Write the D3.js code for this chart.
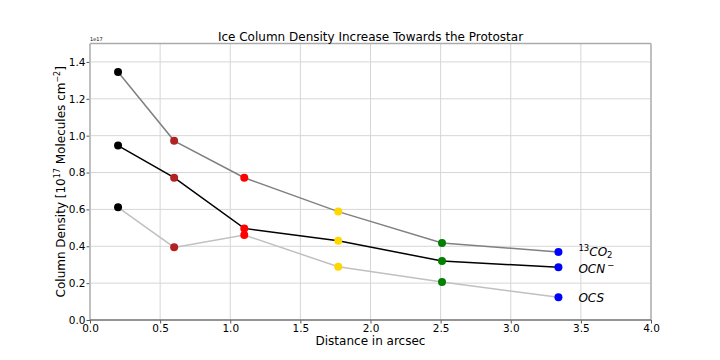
<!DOCTYPE html>
<html>
<head>
<meta charset="utf-8">
<script src="https://cdn.jsdelivr.net/npm/d3@7"></script>
<style>
  body { margin: 0; background: #fff; }
  svg { font-family: "DejaVu Sans", sans-serif; }
</style>
</head>
<body>
<script>
const w = 720,
	h = 360;

// distances in arcsec for each measured position
const distances = [0.2, 0.6, 1.1, 1.77, 2.51, 3.34];
// marker colour per position
const pointColors = ['#000000', '#b22222', '#ff0000', '#ffd700', '#008000', '#0000ff'];
// column densities in units of 1e17
const co2 = [1.345, 0.972, 0.772, 0.588, 0.418, 0.369];
const ocn = [0.946, 0.772, 0.497, 0.430, 0.320, 0.286];
const ocs = [0.611, 0.394, 0.461, 0.289, 0.206, 0.123];
const xTicks = [0, 0.5, 1.0, 1.5, 2.0, 2.5, 3.0, 3.5, 4.0];
const yTicks = [0, 0.2, 0.4, 0.6, 0.8, 1.0, 1.2, 1.4];

const series = [
	{key: 'co2', values: co2, line: '#808080'},
	{key: 'ocn', values: ocn, line: '#000000'},
	{key: 'ocs', values: ocs, line: '#c0c0c0'}
];

const margin = {top: 43.5, right: 69, bottom: 40, left: 90};
const iw = w - margin.left - margin.right,
	ih = h - margin.top - margin.bottom;

const svg = d3.select('body')
	.append('svg')
	.attr('width', w)
	.attr('height', h);

const g = svg.append('g')
	.attr('transform', `translate(${margin.left},${margin.top})`);

const x = d3.scaleLinear().domain([0, 4]).range([0, iw]);
const y = d3.scaleLinear().domain([0, 1.5]).range([ih, 0]);

// grid
g.append('g')
	.selectAll('line')
	.data(xTicks)
	.enter()
	.append('line')
	.attr('x1', (d) => x(d)).attr('x2', (d) => x(d))
	.attr('y1', 0).attr('y2', ih)
	.attr('stroke', '#d6d6d6').attr('stroke-width', 1);
g.append('g')
	.selectAll('line')
	.data(yTicks)
	.enter()
	.append('line')
	.attr('x1', 0).attr('x2', iw)
	.attr('y1', (d) => y(d)).attr('y2', (d) => y(d))
	.attr('stroke', '#d6d6d6').attr('stroke-width', 1);

// axes
const xAxis = g.append('g')
	.attr('transform', `translate(0,${ih})`)
	.call(d3.axisBottom(x).tickValues(xTicks).tickFormat(d3.format('.1f')).tickSizeOuter(0).tickSize(3.5).tickPadding(1.5));
const yAxis = g.append('g')
	.call(d3.axisLeft(y).tickValues(yTicks).tickFormat(d3.format('.1f')).tickSizeOuter(0).tickSize(3.5).tickPadding(1));

[xAxis, yAxis].forEach((a) => {
	a.select('.domain').remove();
	a.selectAll('text').attr('font-size', 10.5).attr('fill', '#000').attr('font-family', 'DejaVu Sans');
	a.selectAll('line').attr('stroke', '#555');
});

// frame
g.append('line').attr('x1', 0).attr('x2', iw).attr('y1', 0).attr('y2', 0).attr('stroke', '#aaa').attr('stroke-width', 1.6);
g.append('line').attr('x1', iw).attr('x2', iw).attr('y1', 0).attr('y2', ih).attr('stroke', '#bbb').attr('stroke-width', 1.8);
g.append('line').attr('x1', 0).attr('x2', 0).attr('y1', 0).attr('y2', ih).attr('stroke', '#bbb').attr('stroke-width', 1.8);
g.append('line').attr('x1', 0).attr('x2', iw).attr('y1', ih).attr('y2', ih).attr('stroke', '#777').attr('stroke-width', 1.4);

// lines
const line = d3.line()
	.x((d, i) => x(distances[i]))
	.y((d) => y(d));

series.forEach((s) => {
	g.append('path')
		.datum(s.values)
		.attr('d', line)
		.attr('fill', 'none')
		.attr('stroke', s.line)
		.attr('stroke-width', 1.5);
});

series.forEach((s) => {
	g.append('g')
		.selectAll('circle')
		.data(s.values)
		.enter()
		.append('circle')
		.attr('cx', (d, i) => x(distances[i]))
		.attr('cy', (d) => y(d))
		.attr('r', 4)
		.attr('fill', (d, i) => pointColors[i]);
});

// series labels
const last = distances.length - 1;
const lx = x(distances[last]) + 20;
const lab = g.append('g').attr('font-size', 12).attr('font-style', 'italic');
const t1 = lab.append('text').attr('x', lx).attr('y', y(co2[last]) + 4);
t1.append('tspan').attr('font-style', 'normal').attr('font-size', 8.5).attr('dy', -5).text('13');
t1.append('tspan').attr('dy', 5).text('CO');
t1.append('tspan').attr('font-style', 'normal').attr('font-size', 8.5).attr('dy', 2.5).text('2');
const t2 = lab.append('text').attr('x', lx).attr('y', y(ocn[last]) + 6);
t2.append('tspan').text('OCN');
t2.append('tspan').attr('font-style', 'normal').attr('font-size', 8.5).attr('dy', -5).attr('dx', 2).text('\u2212');
lab.append('text').attr('x', lx).attr('y', y(ocs[last]) + 4.5).text('OCS');

// title, labels
svg.append('text')
	.attr('x', margin.left + iw / 2).attr('y', 40.5)
	.attr('text-anchor', 'middle').attr('font-size', 12)
	.text('Ice Column Density Increase Towards the Protostar');

svg.append('text')
	.attr('x', margin.left).attr('y', 41)
	.attr('font-size', 5)
	.text('1e17');

svg.append('text')
	.attr('x', margin.left + iw / 2).attr('y', 345)
	.attr('text-anchor', 'middle').attr('font-size', 12)
	.text('Distance in arcsec');

const yl = svg.append('text')
	.attr('transform', `translate(65,${margin.top + ih / 2}) rotate(-90)`)
	.attr('text-anchor', 'middle').attr('font-size', 12);
yl.append('tspan').text('Column Density [10');
yl.append('tspan').attr('font-size', 8).attr('dy', -5).text('17');
yl.append('tspan').attr('dy', 5).text(' Molecules cm');
yl.append('tspan').attr('font-size', 8).attr('dy', -5).text('\u22122');
yl.append('tspan').attr('dy', 5).text(']');
</script>
</body>
</html>
